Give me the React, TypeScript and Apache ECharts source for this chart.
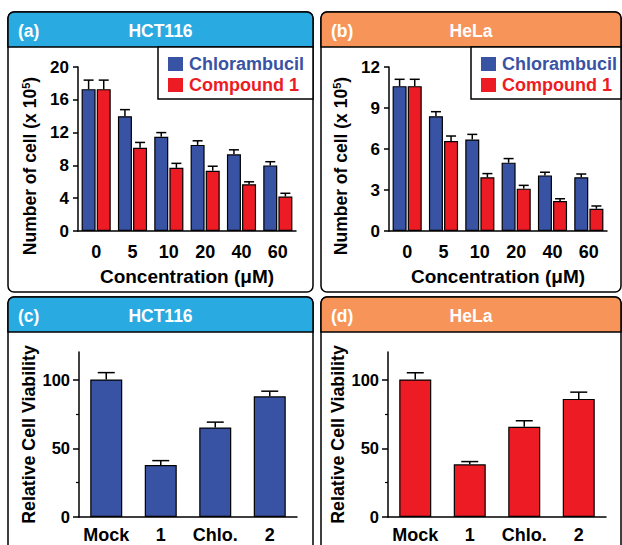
import React, { useEffect, useRef } from "react";
import * as echarts from "echarts";

const concentrations = ["0", "5", "10", "20", "40", "60"];
const hctChloro = [17.3, 14.0, 11.5, 10.5, 9.35, 8.0];
const hctChloroErr = [1.1, 0.8, 0.5, 0.5, 0.55, 0.45];
const hctComp1 = [17.3, 10.15, 7.7, 7.35, 5.7, 4.2];
const hctComp1Err = [1.1, 0.65, 0.55, 0.55, 0.3, 0.4];
const helaChloro = [10.6, 8.4, 6.7, 5.0, 4.07, 3.93];
const helaChloroErr = [0.5, 0.33, 0.37, 0.3, 0.23, 0.24];
const helaComp1 = [10.6, 6.58, 3.93, 3.1, 2.2, 1.63];
const helaComp1Err = [0.5, 0.37, 0.27, 0.24, 0.16, 0.2];
const viabilityCats = ["Mock", "1", "Chlo.", "2"];
const hctViability = [100, 37.8, 65.1, 87.8];
const hctViabilityErr = [5, 3.2, 3.9, 3.7];
const helaViability = [100, 38.3, 65.6, 85.9];
const helaViabilityErr = [4.9, 2.0, 4.4, 4.9];
const countTicksA = { min: 0, max: 20, interval: 4 };
const countTicksB = { min: 0, max: 12, interval: 3 };
const viabilityMajor = [0, 50, 100];
const viabilityMinor = [25, 75];

const BLUE = "#3953a4";
const RED = "#ed1c24";
const HEAD_BLUE = "#29abe2";
const HEAD_ORANGE = "#f7945a";
const FONT = "'Liberation Sans', Arial, Helvetica, sans-serif";

export default function App() {
  const ref = useRef<HTMLDivElement>(null);
  useEffect(() => {
    if (!ref.current) return;
    const chart = echarts.init(ref.current, null, { renderer: "svg" });

    const axisLineStyle = { color: "#000", width: 1.5 };
    const labelStyle = { color: "#000", fontFamily: FONT, fontWeight: "bold" as const, fontSize: 17 };

    const errSeries = (
      vals: number[],
      errs: number[],
      xi: number,
      yi: number,
      offset: number,
      hw: number
    ) => ({
      type: "custom",
      xAxisIndex: xi,
      yAxisIndex: yi,
      z: 5,
      silent: true,
      data: vals.map((v, i) => [i, v, v + errs[i]]),
      renderItem: (params: any, api: any) => {
        const x = api.value(0);
        const p0 = api.coord([x, api.value(1)]);
        const p1 = api.coord([x, api.value(2)]);
        const cx = p0[0] + offset;
        const st = { stroke: "#000", lineWidth: 1.5 };
        return {
          type: "group",
          children: [
            { type: "line", shape: { x1: cx, y1: p0[1], x2: cx, y2: p1[1] }, style: st },
            { type: "line", shape: { x1: cx - hw, y1: p1[1], x2: cx + hw, y2: p1[1] }, style: st },
          ],
        };
      },
    });

    const barStyle = (c: string) => ({ color: c, borderColor: "#000", borderWidth: 1.2 });
    const bw = 14;
    const gapPx = 1.12;
    const off = (bw + gapPx) / 2;

    const countX = (gi: number) => ({
      type: "category",
      gridIndex: gi,
      data: concentrations,
      axisLine: { lineStyle: axisLineStyle },
      axisTick: { alignWithLabel: true, length: 5, lineStyle: { color: "#000", width: 1.5 } },
      axisLabel: { ...labelStyle, fontSize: 18, margin: 12, interval: 0 },
      name: "Concentration (μM)",
      nameLocation: "middle",
      nameGap: 36,
      nameTextStyle: { ...labelStyle, fontSize: 19 },
    });
    const countY = (gi: number, t: { min: number; max: number; interval: number }) => ({
      type: "value",
      gridIndex: gi,
      min: t.min,
      max: t.max,
      interval: t.interval,
      splitLine: { show: false },
      axisLine: { show: true, lineStyle: axisLineStyle },
      axisTick: { show: true, length: 5, lineStyle: { color: "#000", width: 1.5 } },
      axisLabel: { ...labelStyle, margin: 9 },
      name: "Number of cell (x 10{sup|5})",
      nameLocation: "middle",
      nameGap: 39,
      nameRotate: 90,
      nameTextStyle: {
        ...labelStyle,
        fontSize: 17.5,
        padding: [0, 34, 0, 0],
        rich: {
          sup: { fontFamily: FONT, fontWeight: "bold", fontSize: 11, color: "#000", verticalAlign: "top", padding: [0, 0, 8, 0] },
        },
      },
    });
    const viaX = (gi: number) => ({
      type: "category",
      gridIndex: gi,
      data: viabilityCats,
      axisLine: { lineStyle: axisLineStyle },
      axisTick: { alignWithLabel: true, length: 5, lineStyle: { color: "#000", width: 1.5 } },
      axisLabel: { ...labelStyle, fontSize: 18, margin: 9, interval: 0 },
    });
    const viaY = (gi: number) => ({
      type: "value",
      gridIndex: gi,
      min: 0,
      max: 120,
      interval: 50,
      splitLine: { show: false },
      axisLine: { show: true, lineStyle: axisLineStyle },
      axisTick: { show: true, length: 6, customValues: viabilityMajor, lineStyle: { color: "#000", width: 1.5 } },
      axisLabel: { ...labelStyle, fontSize: 16.5, margin: 9, customValues: viabilityMajor },
      name: "Relative Cell Viability",
      nameLocation: "middle",
      nameGap: 41,
      nameRotate: 90,
      nameTextStyle: { ...labelStyle, fontSize: 17.8 },
    });
    const viaYMinor = (gi: number) => ({
      type: "value",
      gridIndex: gi,
      position: "left",
      offset: 0,
      min: 0,
      max: 120,
      splitLine: { show: false },
      axisLine: { show: false },
      axisTick: { show: true, length: 3, customValues: viabilityMinor, lineStyle: { color: "#000", width: 1.2 } },
      axisLabel: { show: false },
    });

    const panel = (x: number, y: number, w: number, h: number, head: string, tag: string, title: string) => [
      { type: "rect", z: -10, shape: { x, y, width: w, height: h, r: 6 }, style: { fill: "#fff", stroke: "#000", lineWidth: 1.5 } },
      { type: "rect", z: -9, shape: { x, y, width: w, height: 35, r: [6, 6, 0, 0] }, style: { fill: head, stroke: "#000", lineWidth: 1.5 } },
      { type: "text", z: -8, x: x + 10, y: y + 19, style: { text: tag, fill: "#fff", font: `bold 17.5px ${FONT}`, textVerticalAlign: "middle" } },
      { type: "text", z: -8, x: x + w / 2, y: y + 19, style: { text: title, fill: "#fff", font: `bold 17.5px ${FONT}`, textAlign: "center", textVerticalAlign: "middle" } },
    ];

    const legendBase = {
      orient: "vertical", top: 50, itemWidth: 15, itemHeight: 14, itemGap: 3, icon: "rect",
      itemStyle: { borderWidth: 0 },
      data: [
        { name: "Chlorambucil", textStyle: { color: BLUE } },
        { name: "Compound 1", textStyle: { color: RED } },
      ],
      textStyle: { fontFamily: FONT, fontWeight: "bold", fontSize: 18, padding: [0, 0, 0, 1] },
    };

    const option: any = {
      animation: false,
      graphic: [
        ...panel(8, 12, 305, 280, HEAD_BLUE, "(a)", "HCT116"),
        ...panel(321, 12, 300, 280, HEAD_ORANGE, "(b)", "HeLa"),
        ...panel(8, 297, 305, 270, HEAD_BLUE, "(c)", "HCT116"),
        ...panel(321, 297, 300, 270, HEAD_ORANGE, "(d)", "HeLa"),
        { type: "rect", z: -7, shape: { x: 158, y: 47, width: 155, height: 52 }, style: { fill: "#fff", stroke: "#000", lineWidth: 1.5 } },
        { type: "rect", z: -7, shape: { x: 471, y: 47, width: 150, height: 52 }, style: { fill: "#fff", stroke: "#000", lineWidth: 1.5 } },
      ],
      legend: [
        { ...legendBase, left: 163 },
        { ...legendBase, left: 476 },
      ],
      grid: [
        { left: 78, top: 67, width: 218, height: 164 },
        { left: 389, top: 67, width: 218, height: 164 },
        { left: 79, top: 352, width: 218, height: 165 },
        { left: 388, top: 352, width: 218, height: 165 },
      ],
      xAxis: [countX(0), countX(1), viaX(2), viaX(3)],
      yAxis: [countY(0, countTicksA), countY(1, countTicksB), viaY(2), viaYMinor(2), viaY(3), viaYMinor(3)],
      series: [
        { type: "bar", name: "Chlorambucil", xAxisIndex: 0, yAxisIndex: 0, data: hctChloro, barWidth: bw, barGap: "8%", itemStyle: barStyle(BLUE) },
        { type: "bar", name: "Compound 1", xAxisIndex: 0, yAxisIndex: 0, data: hctComp1, barWidth: bw, barGap: "8%", itemStyle: barStyle(RED) },
        { type: "bar", name: "Chlorambucil", xAxisIndex: 1, yAxisIndex: 1, data: helaChloro, barWidth: bw, barGap: "8%", itemStyle: barStyle(BLUE) },
        { type: "bar", name: "Compound 1", xAxisIndex: 1, yAxisIndex: 1, data: helaComp1, barWidth: bw, barGap: "8%", itemStyle: barStyle(RED) },
        { type: "bar", name: "HCT116 viability", xAxisIndex: 2, yAxisIndex: 2, data: hctViability, barWidth: 32, itemStyle: barStyle(BLUE) },
        { type: "bar", name: "HeLa viability", xAxisIndex: 3, yAxisIndex: 4, data: helaViability, barWidth: 32, itemStyle: barStyle(RED) },
        errSeries(hctChloro, hctChloroErr, 0, 0, -off, 5),
        errSeries(hctComp1, hctComp1Err, 0, 0, off, 5),
        errSeries(helaChloro, helaChloroErr, 1, 1, -off, 5),
        errSeries(helaComp1, helaComp1Err, 1, 1, off, 5),
        errSeries(hctViability, hctViabilityErr, 2, 2, 0, 8.5),
        errSeries(helaViability, helaViabilityErr, 3, 4, 0, 8.5),
      ],
    };
    chart.setOption(option);
    return () => chart.dispose();
  }, []);

  return (
    <div
      ref={ref}
      style={{ position: "fixed", left: 0, top: 0, width: 622, height: 545, background: "#fff" }}
    />
  );
}
